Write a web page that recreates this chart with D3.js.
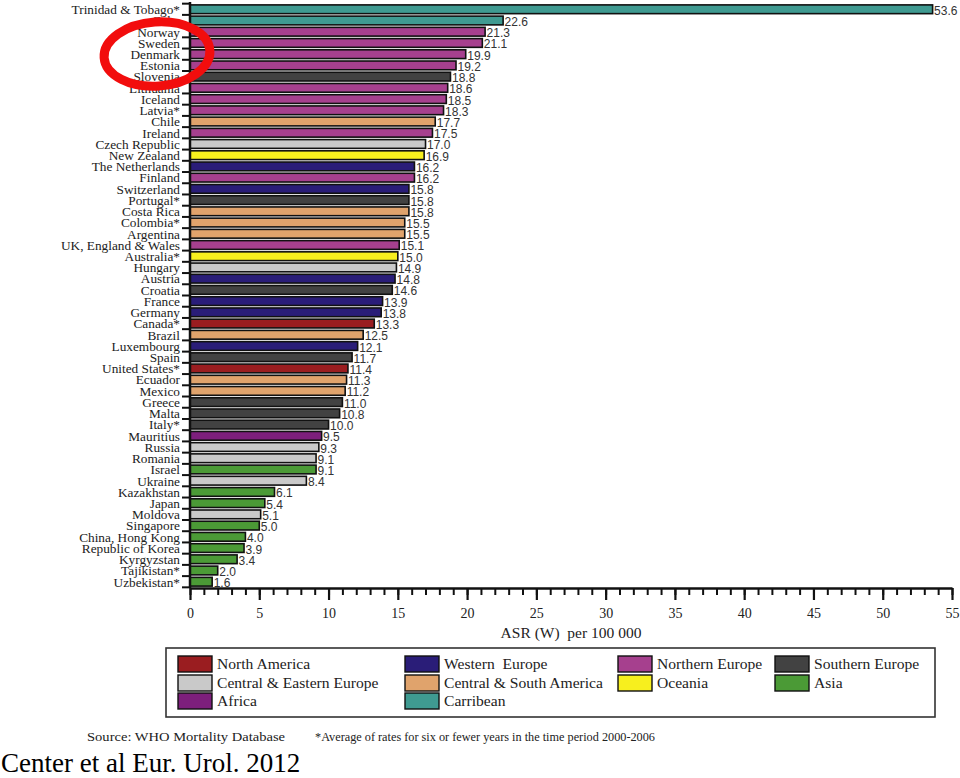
<!DOCTYPE html>
<html>
<head>
<meta charset="utf-8">
<script src="https://cdn.jsdelivr.net/npm/d3@7"></script>
<style>
  html, body { margin: 0; padding: 0; background: #fff; }
  svg { display: block; }
  .pre { white-space: pre; }
</style>
</head>
<body>
<svg id="chart" width="960" height="778"></svg>
<script>
const categories = [
  "Trinidad & Tobago*", "Cuba", "Norway", "Sweden", "Denmark", "Estonia", "Slovenia",
  "Lithuania", "Iceland", "Latvia*", "Chile", "Ireland", "Czech Republic", "New Zealand",
  "The Netherlands", "Finland", "Switzerland", "Portugal*", "Costa Rica", "Colombia*",
  "Argentina", "UK, England & Wales", "Australia*", "Hungary", "Austria", "Croatia",
  "France", "Germany", "Canada*", "Brazil", "Luxembourg", "Spain", "United States*",
  "Ecuador", "Mexico", "Greece", "Malta", "Italy*", "Mauritius", "Russia", "Romania",
  "Israel", "Ukraine", "Kazakhstan", "Japan", "Moldova", "Singapore", "China, Hong Kong",
  "Republic of Korea", "Kyrgyzstan", "Tajikistan*", "Uzbekistan*"
];
const values = [
  53.6, 22.6, 21.3, 21.1, 19.9, 19.2, 18.8,
  18.6, 18.5, 18.3, 17.7, 17.5, 17.0, 16.9,
  16.2, 16.2, 15.8, 15.8, 15.8, 15.5,
  15.5, 15.1, 15.0, 14.9, 14.8, 14.6,
  13.9, 13.8, 13.3, 12.5, 12.1, 11.7, 11.4,
  11.3, 11.2, 11.0, 10.8, 10.0, 9.5, 9.3, 9.1,
  9.1, 8.4, 6.1, 5.4, 5.1, 5.0, 4.0,
  3.9, 3.4, 2.0, 1.6
];
const regionOf = [
  "Carribean", "Carribean", "Northern Europe", "Northern Europe", "Northern Europe", "Northern Europe", "Southern Europe",
  "Northern Europe", "Northern Europe", "Northern Europe", "Central & South America", "Northern Europe", "Central & Eastern Europe", "Oceania",
  "Western  Europe", "Northern Europe", "Western  Europe", "Southern Europe", "Central & South America", "Central & South America",
  "Central & South America", "Northern Europe", "Oceania", "Central & Eastern Europe", "Western  Europe", "Southern Europe",
  "Western  Europe", "Western  Europe", "North America", "Central & South America", "Western  Europe", "Southern Europe", "North America",
  "Central & South America", "Central & South America", "Southern Europe", "Southern Europe", "Southern Europe", "Africa", "Central & Eastern Europe", "Central & Eastern Europe",
  "Asia", "Central & Eastern Europe", "Asia", "Asia", "Central & Eastern Europe", "Asia", "Asia",
  "Asia", "Asia", "Asia", "Asia"
];
const regionNames = [
  "North America", "Western  Europe", "Northern Europe", "Southern Europe",
  "Central & Eastern Europe", "Central & South America", "Oceania", "Asia",
  "Africa", "Carribean"
];
const regionColors = [
  "#9a1d20", "#2a1d78", "#a6408e", "#424242",
  "#c9c9c9", "#e0a36c", "#f7ef1e", "#4b9a36",
  "#7d1f7c", "#3f9a91"
];
const majorTicks = [0, 5, 10, 15, 20, 25, 30, 35, 40, 45, 50, 55];
const axisTitle = "ASR (W)  per 100 000";
const sourceNote = "Source: WHO Mortality Database";
const footNote = "*Average of rates for six or fewer years in the time period 2000-2006";
const citation = "Center et al Eur. Urol. 2012";

const svg = d3.select("#chart");
const serif = "'Liberation Serif', 'Times New Roman', serif";
const sans = "'Liberation Sans', Arial, sans-serif";

const color = d3.scaleOrdinal().domain(regionNames).range(regionColors);
const x = d3.scaleLinear().domain([0, 55]).range([190, 952]);
const y = d3.scaleBand().domain(categories).range([4, 587]).paddingInner(0.22).paddingOuter(0.08);

const data = categories.map((c, i) => ({ name: c, value: values[i], region: regionOf[i] }));

// bars
svg.append("g").selectAll("rect").data(data).join("rect")
  .attr("x", x(0))
  .attr("y", d => y(d.name))
  .attr("width", d => x(d.value) - x(0))
  .attr("height", y.bandwidth())
  .attr("fill", d => color(d.region))
  .attr("stroke", "#111")
  .attr("stroke-width", 1.6);

// value labels
svg.append("g").selectAll("text").data(data).join("text")
  .attr("x", d => x(d.value) + 1.5)
  .attr("y", d => y(d.name) + y.bandwidth() / 2 + 5.5)
  .attr("font-family", sans)
  .attr("font-size", 12)
  .attr("fill", "#333")
  .text(d => d.value.toFixed(1));

// y axis (country labels)
const yAxis = svg.append("g").attr("transform", `translate(${x(0)},0)`)
  .call(d3.axisLeft(y).tickSize(0).tickPadding(10));
yAxis.select(".domain").remove();
yAxis.selectAll("text")
  .attr("font-family", serif)
  .attr("font-size", 13.3)
  .attr("fill", "#222")
  .attr("dy", "0.36em");

// band boundary ticks on y axis
const step = y.step();
const boundaries = categories.map(c => y(c) - step * y.paddingInner() / 2).concat([y(categories[categories.length - 1]) + y.bandwidth() + step * y.paddingInner() / 2]);
svg.append("g").selectAll("line").data(boundaries).join("line")
  .attr("x1", x(0) - 8).attr("x2", x(0))
  .attr("y1", d => d).attr("y2", d => d)
  .attr("stroke", "#111").attr("stroke-width", 2);

const axisY = 588;
// y axis line
svg.append("line")
  .attr("x1", x(0)).attr("x2", x(0))
  .attr("y1", 2).attr("y2", axisY)
  .attr("stroke", "#111").attr("stroke-width", 2.5);

// x axis: minor ticks
svg.append("g").attr("transform", `translate(0,${axisY})`)
  .call(d3.axisBottom(x).tickValues(d3.range(0, 56, 1)).tickSize(7).tickFormat(""))
  .call(g => g.select(".domain").remove())
  .call(g => g.selectAll("line").attr("stroke", "#111").attr("stroke-width", 2));

// x axis: major ticks
const xAxis = svg.append("g").attr("transform", `translate(0,${axisY})`)
  .call(d3.axisBottom(x).tickValues(majorTicks).tickSize(12).tickPadding(8).tickSizeOuter(0));
xAxis.select(".domain").attr("stroke", "#111").attr("stroke-width", 2.5);
xAxis.selectAll("line").attr("stroke", "#111").attr("stroke-width", 2.2);
xAxis.selectAll("text")
  .attr("font-family", serif)
  .attr("font-size", 14)
  .attr("fill", "#222");

svg.append("text")
  .attr("class", "pre")
  .attr("x", (x(0) + x(55)) / 2)
  .attr("y", 638)
  .attr("text-anchor", "middle")
  .attr("font-family", serif)
  .attr("font-size", 15.5)
  .attr("fill", "#222")
  .text(axisTitle);

// legend
svg.append("rect")
  .attr("x", 166).attr("y", 648).attr("width", 769).attr("height", 69)
  .attr("fill", "none").attr("stroke", "#333").attr("stroke-width", 1.6);

const colX = [178, 405, 618, 775];
const rowY = [656, 675, 693];
const legendItems = regionNames.map((n, i) => ({ name: n, col: i % 4, row: Math.floor(i / 4) }));
legendItems.forEach(d => { if (d.row === 2) { d.col = d.name === "Africa" ? 0 : 1; } });

const lg = svg.append("g").selectAll("g").data(legendItems).join("g")
  .attr("transform", d => `translate(${colX[d.col]},${rowY[d.row]})`);
lg.append("rect")
  .attr("width", 34).attr("height", 16)
  .attr("fill", d => color(d.name))
  .attr("stroke", "#111").attr("stroke-width", 1.4);
lg.append("text")
  .attr("class", "pre")
  .attr("x", 39).attr("y", 13)
  .attr("font-family", serif)
  .attr("font-size", 15.6)
  .attr("fill", "#222")
  .text(d => d.name);

// footer
svg.append("text")
  .attr("x", 87).attr("y", 741)
  .attr("font-family", serif).attr("font-size", 12).attr("fill", "#222")
  .attr("textLength", 198).attr("lengthAdjust", "spacingAndGlyphs")
  .text(sourceNote);
svg.append("text")
  .attr("x", 315).attr("y", 741)
  .attr("font-family", serif).attr("font-size", 12).attr("fill", "#222")
  .attr("textLength", 340).attr("lengthAdjust", "spacingAndGlyphs")
  .text(footNote);
svg.append("text")
  .attr("x", 1).attr("y", 772)
  .attr("font-family", serif).attr("font-size", 27).attr("fill", "#000")
  .text(citation);

// red annotation ellipse
svg.append("ellipse")
  .attr("cx", 157).attr("cy", 54)
  .attr("rx", 53).attr("ry", 32)
  .attr("transform", "rotate(-4,157,54)")
  .attr("fill", "none")
  .attr("stroke", "#f20d0d")
  .attr("stroke-width", 9);
</script>
</body>
</html>
